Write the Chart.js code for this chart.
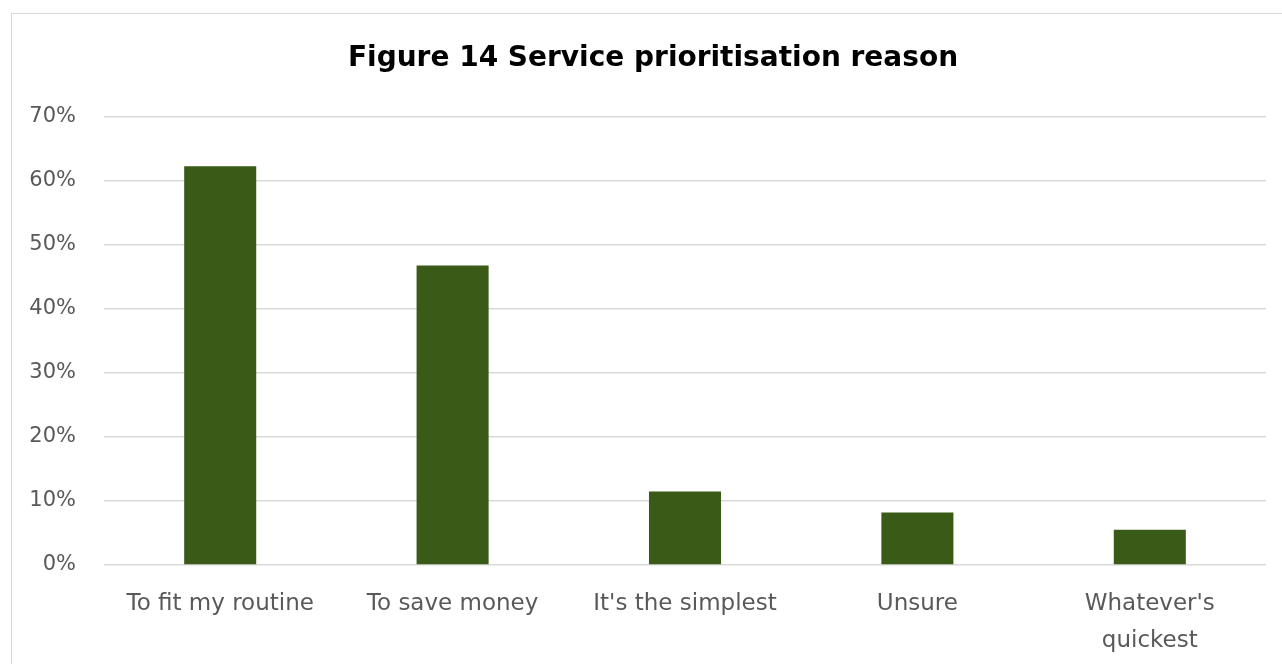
<!DOCTYPE html>
<html>
<head>
<meta charset="utf-8">
<script src="https://cdn.jsdelivr.net/npm/chart.js@4"></script>
<style>
  html, body { margin: 0; padding: 0; background: #fff; overflow: hidden; }
  #frame { position: absolute; left: 11px; top: 13px; width: 1400px; height: 800px; border: 1px solid #d9d9d9; }
  #wrap { position: absolute; left: 0; top: 0; width: 1282px; height: 664px; }
</style>
</head>
<body>
<div id="frame"></div>
<div id="wrap"><canvas id="myChart"></canvas></div>
<script>
// values
const categories = ['To fit my routine', 'To save money', "It's the simplest", 'Unsure', ["Whatever's", 'quickest']];
const shares = [62.3, 46.8, 11.5, 8.2, 5.5];
const yTicks = [0, 10, 20, 30, 40, 50, 60, 70];
const chartTitle = 'Figure 14 Service prioritisation reason';

const tickFont = 'DejaVu Sans';

// title sits a bit right of the plot centre in the original, so draw it ourselves
const titlePlugin = {
  id: 'figTitle',
  afterDraw(chart) {
    const c = chart.ctx;
    c.save();
    c.fillStyle = '#000';
    c.font = 'bold 28px "' + tickFont + '"';
    c.textAlign = 'center';
    c.textBaseline = 'middle';
    c.fillText(chartTitle, 653, 59);
    c.restore();
  }
};

var ctx = document.getElementById('myChart');
var myBarChart = new Chart(ctx, {
  type: 'bar',
  data: {
    labels: categories,
    datasets: [{
      label: 'Share',
      data: shares,
      backgroundColor: '#3a5a17',
      borderWidth: 0,
      categoryPercentage: 1,
      barPercentage: 0.31
    }]
  },
  options: {
    responsive: true,
    maintainAspectRatio: false,
    animation: false,
    layout: { padding: { left: 12, right: 16, top: 117, bottom: 0 } },
    plugins: {
      legend: { display: false },
      tooltip: { enabled: false },
      title: { display: false }
    },
    scales: {
      x: {
        grid: { display: false },
        border: { display: false },
        ticks: {
          color: '#595959',
          font: { family: tickFont, size: 23, lineHeight: 1.6 },
          padding: 13,
          maxRotation: 0,
          autoSkip: false
        },
        afterFit: function(scale) { scale.height = 99; }
      },
      y: {
        min: 0,
        max: 70,
        border: { display: false },
        grid: { color: '#d9d9d9', lineWidth: 1.5, drawTicks: false },
        afterBuildTicks: function(scale) {
          scale.ticks = yTicks.map(v => ({ value: v }));
        },
        ticks: {
          color: '#595959',
          font: { family: tickFont, size: 21 },
          padding: 28,
          callback: v => v + '%'
        },
        afterFit: function(scale) { scale.width = 92; }
      }
    }
  },
  plugins: [titlePlugin]
});
</script>
</body>
</html>
